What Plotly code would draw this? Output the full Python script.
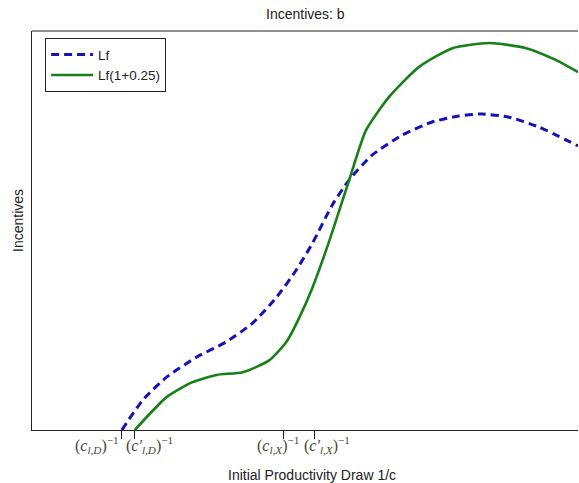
import plotly.graph_objects as go

# ---- data (x in units of initial productivity draw 1/c, y = incentives) ----
lf_x = [1.645, 2.03, 2.47, 3.02, 3.56, 4.04, 4.48, 4.84, 5.14, 5.50, 5.81,
        6.23, 6.78, 7.33, 7.82, 8.24, 8.74, 9.29, 10.0]
lf_y = [0.0, 0.75, 1.33, 1.83, 2.21, 2.68, 3.33, 4.01, 4.69, 5.64, 6.27,
        6.89, 7.39, 7.72, 7.87, 7.92, 7.84, 7.59, 7.12]

lf125_x = [1.883, 2.47, 2.94, 3.38, 3.86, 4.35, 4.66, 4.90, 5.14, 5.45, 5.81,
           6.12, 6.54, 7.09, 7.70, 8.37, 9.05, 9.60, 10.0]
lf125_y = [0.0, 0.83, 1.20, 1.38, 1.45, 1.75, 2.21, 2.83, 3.58, 4.76, 6.27,
           7.52, 8.35, 9.10, 9.57, 9.70, 9.57, 9.27, 8.97]

tick_positions = [1.645, 1.883, 4.607, 5.174]
label_positions = [1.19, 2.16, 4.50, 5.41]
tick_labels = [
    "(<i>c</i><sub><i>l,D</i></sub>)<sup>−1</sup>",
    "(<i>c′</i><sub><i>l,D</i></sub>)<sup>−1</sup>",
    "(<i>c</i><sub><i>l,X</i></sub>)<sup>−1</sup>",
    "(<i>c′</i><sub><i>l,X</i></sub>)<sup>−1</sup>",
]

fig = go.Figure()
fig.add_trace(go.Scatter(x=lf_x, y=lf_y, mode="lines", name="Lf",
                         line=dict(color="#1414b4", width=3, dash="8px,5px",
                                   shape="spline", smoothing=0.6)))
fig.add_trace(go.Scatter(x=lf125_x, y=lf125_y, mode="lines", name="Lf(1+0.25)",
                         line=dict(color="#178017", width=2.6,
                                   shape="spline", smoothing=0.6)))

label_font = dict(family="Liberation Serif, Times New Roman, serif",
                  size=16, color="#4a4535")
annotations = [
    dict(text=t, x=xv, xref="x", yref="paper", y=0, yanchor="middle",
         yshift=-15, showarrow=False, font=label_font)
    for t, xv in zip(tick_labels, label_positions)
]
annotations += [
    dict(text="Incentives: b", xref="paper", yref="paper", x=0.50, y=1,
         yanchor="middle", yshift=17, showarrow=False,
         font=dict(size=14, color="#222")),
    dict(text="Initial Productivity Draw 1/c", xref="paper", yref="paper",
         x=0.512, y=0, yanchor="middle", yshift=-45, showarrow=False,
         font=dict(size=14, color="#222")),
    dict(text="Incentives", xref="paper", yref="paper", x=0, y=0.524,
         xanchor="center", xshift=-14, textangle=-90, showarrow=False,
         font=dict(size=14, color="#222")),
]

fig.update_layout(
    width=579, height=483,
    margin=dict(l=32, r=1, t=31, b=53),
    paper_bgcolor="white", plot_bgcolor="white",
    font=dict(family="Liberation Sans, Arial, sans-serif", size=14, color="#222"),
    showlegend=True,
    legend=dict(x=0.024, y=0.982, xanchor="left", yanchor="top",
                bgcolor="white", bordercolor="#222", borderwidth=1,
                font=dict(size=13.5, color="#222"), itemwidth=42,
                tracegroupgap=0),
    xaxis=dict(range=[0, 10], showgrid=False, zeroline=False,
               showline=True, linecolor="#222", linewidth=1,
               tickmode="array", tickvals=tick_positions, showticklabels=False,
               ticks="outside", ticklen=8, tickcolor="#222", tickwidth=1),
    yaxis=dict(range=[0, 10], showgrid=False, zeroline=False,
               showline=True, linecolor="#222", linewidth=1,
               showticklabels=False, ticks=""),
    shapes=[dict(type="line", xref="paper", yref="paper", x0=0, x1=1, y0=1, y1=1,
                 line=dict(color="#222", width=1))],
    annotations=annotations,
)

fig.write_html("out.html")
